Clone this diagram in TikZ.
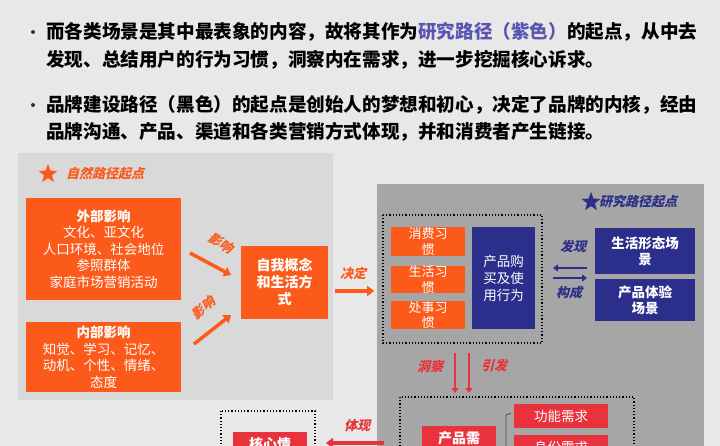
\documentclass[tikz,border=0pt]{standalone}
\usepackage{fontspec}
\setmainfont{Noto Sans CJK SC}
\newfontfamily\slb{Noto Sans CJK SC}[FakeSlant=0.25,BoldFeatures={FakeSlant=0.25}]
\usetikzlibrary{arrows.meta,shapes.geometric}
\definecolor{bgc}{HTML}{E8E8E8}
\definecolor{lgp}{HTML}{D9D9D9}
\definecolor{dgp}{HTML}{A6A6A6}
\definecolor{org}{HTML}{FC5A1A}
\definecolor{blu}{HTML}{2B2E8A}
\definecolor{rd}{HTML}{E8323C}
\definecolor{pur}{HTML}{5A55B0}
\tikzset{
  box/.style={inner sep=0pt,align=center,text=white,font=\fontsize{13.5}{16.5}\selectfont},
  obox/.style={box,fill=org},
  bbox/.style={box,fill=blu},
  rbox/.style={box,fill=rd},
  dotbox/.style={draw=black,line width=1.2pt,dotted},
  lab/.style={font=\slb\bfseries\fontsize{13}{14}\selectfont,inner sep=0pt},
  fat/.style={line width=3.5pt,-{Triangle[length=7pt,width=10pt]}},
  bul/.style={anchor=west,font=\bfseries\fontsize{18.6}{20}\selectfont,inner sep=0pt}
}
\begin{document}
\begin{tikzpicture}[x=1pt,y=-1pt]
\fill[bgc] (0,0) rectangle (720,446);
\useasboundingbox (0,0) rectangle (720,446);
\clip (0,0) rectangle (720,446);
% bullets
\foreach \yy in {32,105} \fill[black!80] (33,\yy) circle (2pt);
\node[bul] (t1) at (46,32) {而各类场景是其中最表象的内容，故将其作为\textcolor{pur}{研究路径（紫色）}的起点，从中去};
\node[bul] (t2) at (46,60) {发现、总结用户的行为习惯，洞察内在需求，进一步挖掘核心诉求。};
\node[bul] (t3) at (46,105) {品牌建设路径（黑色）的起点是创始人的梦想和初心，决定了品牌的内核，经由};
\node[bul] (t4) at (46,132) {品牌沟通、产品、渠道和各类营销方式体现，并和消费者产生链接。};
% panels
\fill[lgp] (18,153) rectangle (333,400);
\fill[dgp] (377,184) rectangle (704,446);
% left panel
\node[star,star points=5,star point ratio=2.4,fill=org,minimum size=20pt,inner sep=0pt] (s1) at (48,174) {};
\node[lab,text=org,anchor=west] (l1) at (66,174) {自然路径起点};
\node[obox,minimum width=155pt,minimum height=102pt] (ext) at (103.5,249) {{\bfseries 外部影响}\\文化、亚文化\\人口环境、社会地位\\参照群体\\家庭市场营销活动};
\node[obox,minimum width=155pt,minimum height=70pt] (int) at (103.5,357) {{\bfseries 内部影响}\\知觉、学习、记忆、\\动机、个性、情绪、\\态度};
\node[obox,minimum width=87pt,minimum height=73pt,font=\bfseries\fontsize{14}{17}\selectfont] (self) at (284.5,282.5) {自我概念\\和生活方\\式};
\coordinate (a1s) at (190,253); \coordinate (a1e) at (231,275);
\draw[fat,org] (a1s) -- (a1e);
\node[lab,text=org,rotate=-30] (la1) at (221,243) {影响};
\coordinate (a2s) at (194,344); \coordinate (a2e) at (231,315);
\draw[fat,org] (a2s) -- (a2e);
\node[lab,text=org,rotate=40] (la2) at (203,308) {影响};
\draw[fat,org] (self.east) ++(7,8.5) coordinate (d1) -- ++(39,0) coordinate (d2);
\node[lab,text=org] (ld) at (353,273) {决定};
% right panel
\node[star,star points=5,star point ratio=2.4,fill=blu,minimum size=20pt,inner sep=0pt] (s2) at (591,202) {};
\node[lab,text=blu,anchor=west] (l2) at (599,202) {研究路径起点};
\draw[dotbox] (383,215) rectangle (542,343);
\node[obox,minimum width=74pt,minimum height=29pt,font=\fontsize{13}{15.5}\selectfont] (h1) at (428,241.5) {消费习\\惯};
\node[obox,minimum width=74pt,minimum height=27pt,font=\fontsize{13}{15.5}\selectfont] (h2) at (428,279.5) {生活习\\惯};
\node[obox,minimum width=74pt,minimum height=28pt,font=\fontsize{13}{15.5}\selectfont] (h3) at (428,315) {处事习\\惯};
\node[bbox,minimum width=63pt,minimum height=102pt,font=\fontsize{13.5}{17}\selectfont] (buy) at (503.5,278) {产品购\\买及使\\用行为};
\node[bbox,minimum width=100pt,minimum height=46pt,font=\bfseries\fontsize{13.5}{16}\selectfont] (sc1) at (645,251) {生活形态场\\景};
\node[bbox,minimum width=100pt,minimum height=42pt,font=\bfseries\fontsize{13.5}{16}\selectfont] (sc2) at (645,300) {产品体验\\场景};
\coordinate (b1) at (587,268); \coordinate (b2) at (553,268);
\draw[blu,line width=2.8pt,-{Triangle[length=5pt,width=7pt]}] (b1) -- (b2);
\coordinate (b3) at (553,278); \coordinate (b4) at (587,278);
\draw[blu,line width=2.8pt,-{Triangle[length=5pt,width=7pt]}] (b3) -- (b4);
\node[lab,text=blu] (lf) at (573,247) {发现};
\node[lab,text=blu] (lg) at (569,293) {构成};
\coordinate (c1) at (455,353); \coordinate (c2) at (455,393);
\coordinate (c3) at (469,353); \coordinate (c4) at (469,393);
\draw[rd,line width=2.8pt,-{Triangle[length=5pt,width=7pt]}] (c1) -- (c2);
\draw[rd,line width=2.8pt,-{Triangle[length=5pt,width=7pt]}] (c3) -- (c4);
\node[lab,text=rd] (lc) at (430,367) {洞察};
\node[lab,text=rd] (ly) at (494,366) {引发};
\draw[dotbox] (400,397) rectangle (634,470);
\node[rbox,minimum width=94pt,minimum height=24pt,font=\fontsize{13.5}{15}\selectfont] (n1) at (561,416) {功能需求};
\node[rbox,minimum width=94pt,minimum height=24pt,font=\fontsize{13.5}{15}\selectfont,anchor=north] (n2) at (561,435) {身份需求};
\node[rbox,minimum width=74pt,minimum height=40pt,font=\bfseries\fontsize{14}{17}\selectfont,anchor=north] (pn) at (459,426) {产品需\\求};
\draw[black!70,line width=0.8pt] (511,413) -- (506,415) -- (506,460);
% core
\draw[dotbox] (221,411) rectangle (315,470);
\node[rbox,minimum width=74pt,minimum height=40pt,font=\bfseries\fontsize{14}{17}\selectfont,anchor=north] (core) at (270,432) {核心情\\感};
\coordinate (e1) at (384,443); \coordinate (e2) at (326,443);
\draw[fat,rd] (e1) -- (e2);
\node[lab,text=rd] (le) at (357,426) {体现};
\end{tikzpicture}
\end{document}
